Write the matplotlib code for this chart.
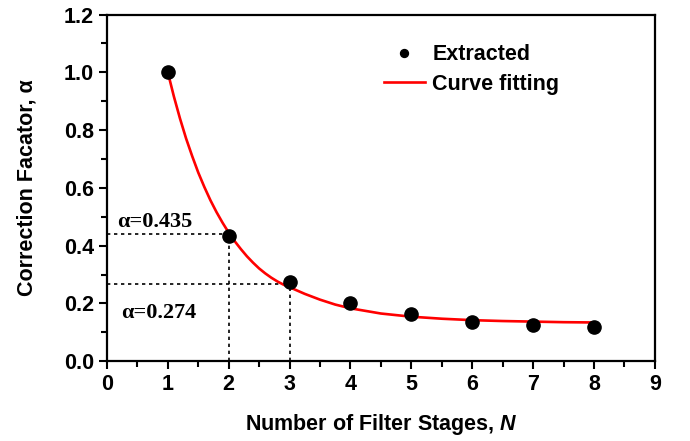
import matplotlib
matplotlib.use('Agg')
import matplotlib.pyplot as plt
import numpy as np

plt.rcParams['font.family'] = ['Liberation Sans', 'DejaVu Sans']
plt.rcParams['font.weight'] = 'bold'
plt.rcParams['mathtext.fontset'] = 'custom'
plt.rcParams['mathtext.it'] = 'Liberation Sans:italic:bold'

# extracted points
n_stages = [1, 2, 3, 4, 5, 6, 7, 8]
alpha_ext = [1.0, 0.435, 0.274, 0.202, 0.162, 0.135, 0.124, 0.118]

# fitted curve
fit_n = [1.0, 1.1, 1.2, 1.3, 1.4, 1.5, 1.6, 1.7, 1.8, 1.9, 2.0, 2.1, 2.2, 2.3, 2.4,
         2.5, 2.6, 2.7, 2.8, 2.9, 3.0, 3.25, 3.5, 3.75, 4.0, 4.5, 5.0, 5.5, 6.0,
         6.5, 7.0, 7.5, 8.0]
fit_alpha = [1.0, 0.916, 0.840, 0.771, 0.710, 0.653, 0.603, 0.557, 0.516, 0.479,
             0.445, 0.415, 0.388, 0.363, 0.341, 0.321, 0.304, 0.289, 0.276, 0.265,
             0.256, 0.233, 0.213, 0.196, 0.183, 0.165, 0.154, 0.147, 0.142,
             0.139, 0.137, 0.135, 0.134]

# marked values
mark_n = [2, 3]
mark_alpha = [0.44, 0.267]
mark_text = ['α=0.435', 'α=0.274']

fig = plt.figure(figsize=(6.9, 4.41), dpi=100)
ax = fig.add_axes([0.155, 0.181, 0.794, 0.786])

ax.plot(fit_n, fit_alpha, color='#ff0000', lw=1.9, label='Curve fitting', zorder=2)
ax.plot(n_stages, alpha_ext, 'o', color='black', ms=9.5, label='Extracted', zorder=3)

for n, a in zip(mark_n, mark_alpha):
    ax.plot([0, n], [a, a], color='black', lw=1.2, ls=(0, (2, 2.2)), zorder=1)
    ax.plot([n, n], [0, a], color='black', lw=1.2, ls=(0, (2, 2.2)), zorder=1)

ax.text(0.16, 0.465, mark_text[0], family='Liberation Serif', fontsize=16,
        fontweight='bold', ha='left', va='baseline')
ax.text(0.24, 0.15, mark_text[1], family='Liberation Serif', fontsize=16,
        fontweight='bold', ha='left', va='baseline')

ax.set_xlim(0, 9)
ax.set_ylim(0, 1.2)
ax.set_xticks(np.arange(0, 10, 1))
ax.set_xticks(np.arange(0.5, 9, 1), minor=True)
ax.set_yticks(np.arange(0, 1.21, 0.2))
ax.set_yticks(np.arange(0.1, 1.2, 0.2), minor=True)
ax.set_yticklabels(['%.1f' % v for v in np.arange(0, 1.21, 0.2)])
ax.tick_params(which='major', direction='out', length=6, width=1.5, labelsize=15.5)
ax.tick_params(which='minor', direction='out', length=4, width=1.5)
for s in ax.spines.values():
    s.set_linewidth(1.6)

ax.set_xlabel('Number of Filter Stages, $\\mathit{N}$', fontsize=15.5, fontweight='bold', labelpad=12)
ax.set_ylabel('Correction Facator, α', fontsize=15.5, fontweight='bold', labelpad=19)

h, l = ax.get_legend_handles_labels()
ax.legend(h[::-1], l[::-1], loc='upper left', bbox_to_anchor=(0.47, 0.97), frameon=False,
          fontsize=15.5, handlelength=1.9, handletextpad=0.35, labelspacing=0.4,
          markerscale=0.6)

plt.savefig('out.png', dpi=100)
